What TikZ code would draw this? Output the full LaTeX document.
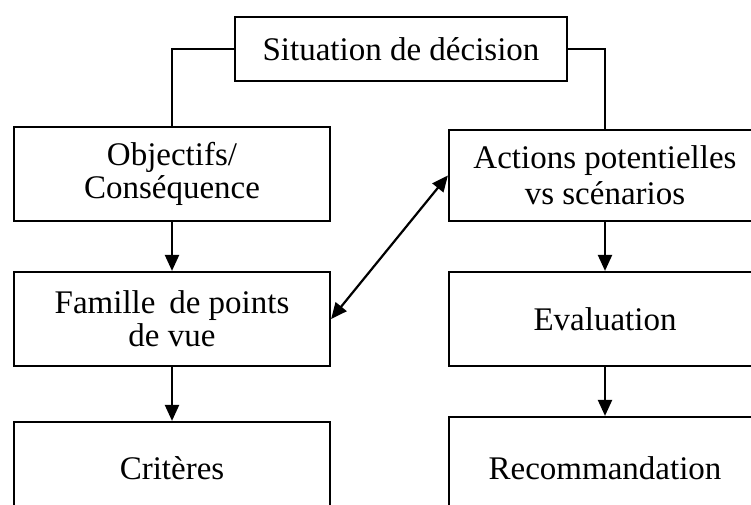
\documentclass[tikz,border=0pt]{standalone}
\usepackage{fontspec}
\setmainfont{Liberation Serif}
\usetikzlibrary{arrows.meta}
\begin{document}
\begin{tikzpicture}[x=1pt,y=-1pt,
  box/.style={draw=black, line width=2.2pt, inner sep=0pt, align=center,
    font=\fontsize{33}{33}\selectfont},
  conn/.style={line width=2.2pt},
  arr/.style={line width=2.2pt, -{Triangle[width=14pt,length=16pt]}},
  darr/.style={line width=2.2pt, {Triangle[width=14pt,length=16pt]}-{Triangle[width=14pt,length=16pt]}}]
\useasboundingbox (0,0) rectangle (751,504);
\clip (0,0) rectangle (751,504);
\node[box, minimum width=332pt, minimum height=64pt] (top) at (401,49) {Situation de décision};
\node[box, minimum width=316pt, minimum height=94pt] (obj) at (172,174) {Objectifs/\\Conséquence};
\node[box, minimum width=316pt, minimum height=94pt] (fam) at (172,319) {Famille\, de points\\de vue};
\node[box, minimum width=316pt, minimum height=92pt] (crit) at (172,468) {Critères};
\node[box, minimum width=312pt, minimum height=91pt] (act) at (605,175.5) {Actions potentielles\\[3pt]vs scénarios};
\node[box, minimum width=312pt, minimum height=94pt] (eval) at (605,319) {Evaluation};
\node[box, minimum width=312pt, minimum height=102pt] (rec) at (605,468) {Recommandation};
\draw[conn] (top.west) -| (obj.north);
\draw[conn] (top.east) -| (act.north);
\draw[arr] (obj) -- (fam);
\draw[arr] (fam) -- (crit);
\draw[arr] (act) -- (eval);
\draw[arr] (eval) -- (rec);
\draw[darr] (fam.east) -- (act.west);
\end{tikzpicture}
\end{document}
